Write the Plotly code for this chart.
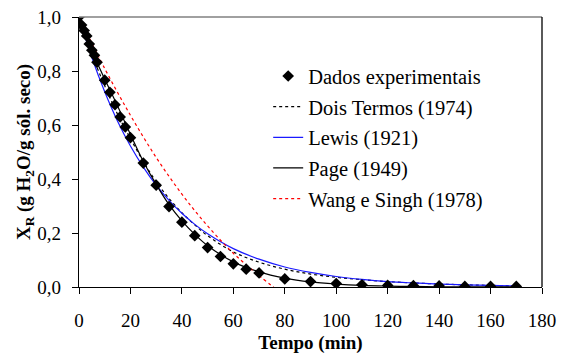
import plotly.graph_objects as go

# Experimental data
t_exp = [0, 1, 2, 3, 4, 5, 6, 7, 10, 12, 14, 16, 18, 20, 25, 30, 35, 40, 45, 50,
         55, 60, 65, 70, 80, 90, 100, 110, 120, 130, 140, 150, 160, 170]
x_exp = [1.000, 0.970, 0.950, 0.930, 0.900, 0.877, 0.858, 0.832, 0.766, 0.721,
         0.675, 0.630, 0.593, 0.553, 0.459, 0.377, 0.298, 0.240, 0.190, 0.146,
         0.113, 0.086, 0.066, 0.052, 0.030, 0.020, 0.013, 0.008, 0.006, 0.005,
         0.004, 0.002, 0.002, 0.002]

# Model curves
t_model = [0, 5, 10, 15, 20, 25, 30, 35, 40, 45, 50, 60, 70, 80, 90, 100, 110,
           120, 130, 140, 150, 160, 170]
x_dois = [1.000, 0.862, 0.745, 0.640, 0.550, 0.465, 0.390, 0.328, 0.275, 0.230,
          0.190, 0.130, 0.092, 0.066, 0.048, 0.036, 0.027, 0.020, 0.015, 0.011,
          0.008, 0.006, 0.004]
x_lewis = [1.000, 0.850, 0.723, 0.614, 0.522, 0.444, 0.377, 0.321, 0.273, 0.232,
           0.197, 0.142, 0.103, 0.074, 0.054, 0.039, 0.028, 0.020, 0.015, 0.011,
           0.008, 0.006, 0.004]
x_page = [1.000, 0.875, 0.770, 0.670, 0.565, 0.465, 0.380, 0.305, 0.245, 0.195,
          0.153, 0.093, 0.056, 0.033, 0.019, 0.011, 0.006, 0.0035, 0.002, 0.001,
          0.0005, 0.0003, 0.0002]
t_wang = [0, 10, 20, 30, 40, 50, 60, 70, 78]
x_wang = [1.000, 0.809, 0.636, 0.480, 0.344, 0.226, 0.125, 0.042, -0.018]

FONT = "Liberation Serif"

fig = go.Figure()
fig.add_trace(go.Scatter(x=t_model, y=x_dois, mode="lines", name="Dois Termos (1974)",
                         line=dict(color="black", width=1.2, dash="dot", shape="spline"),
                         legendgroup="b", legendrank=2))
fig.add_trace(go.Scatter(x=t_model, y=x_lewis, mode="lines", name="Lewis (1921)",
                         line=dict(color="#1a1aff", width=1.2, shape="spline"),
                         legendgroup="c", legendrank=3))
fig.add_trace(go.Scatter(x=t_model, y=x_page, mode="lines", name="Page (1949)",
                         line=dict(color="black", width=1.2, shape="spline"),
                         legendgroup="d", legendrank=4))
fig.add_trace(go.Scatter(x=t_wang, y=x_wang, mode="lines", name="Wang e Singh (1978)",
                         line=dict(color="red", width=1.2, dash="dot", shape="spline"),
                         legendgroup="e", legendrank=5))
fig.add_trace(go.Scatter(x=t_exp, y=x_exp, mode="markers", name="Dados experimentais",
                         marker=dict(symbol="diamond", size=9, color="black"),
                         legendgroup="a", legendrank=1))

fig.update_layout(
    width=549, height=350,
    margin=dict(l=71, r=15, t=9, b=71),
    paper_bgcolor="white", plot_bgcolor="white",
    separators=",.",
    font=dict(family=FONT, size=19, color="black"),
    showlegend=True,
    legend=dict(x=0.4086, y=0.855, xanchor="left", yanchor="top",
                font=dict(family=FONT, size=20.5, color="black"),
                bgcolor="rgba(0,0,0,0)", tracegroupgap=1,
                traceorder="grouped"),
    xaxis=dict(range=[0, 180], dtick=20, tick0=0, showgrid=False, zeroline=False,
               showline=True, linecolor="black", linewidth=1.3,
               ticks="outside", ticklen=6, tickcolor="black",
               tickfont=dict(family=FONT, size=19),
               ticklabelstandoff=10, automargin=False, ticklabeloverflow="allow",
               title=dict(text="<b>Tempo (min)</b>", font=dict(family=FONT, size=19),
                          standoff=5)),
    yaxis=dict(range=[0, 1.0], dtick=0.2, tick0=0, tickformat=".1f", showgrid=False,
               zeroline=False, showline=True, linecolor="black", linewidth=1.3,
               ticks="outside", ticklen=6, tickcolor="black",
               tickfont=dict(family=FONT, size=19),
               ticklabelstandoff=7, automargin=False, ticklabeloverflow="allow",
               title=dict(text="<b>X<sub>R</sub> (g H<sub>2</sub>O/g sól. seco)</b>",
                          font=dict(family=FONT, size=19), standoff=0)),
    shapes=[
        dict(type="line", xref="paper", yref="paper", x0=0, x1=1, y0=1, y1=1,
             line=dict(color="#808080", width=1.5)),
        dict(type="line", xref="paper", yref="paper", x0=1, x1=1, y0=0, y1=1,
             line=dict(color="black", width=1.3)),
    ],
)

fig.write_html("out.html")
